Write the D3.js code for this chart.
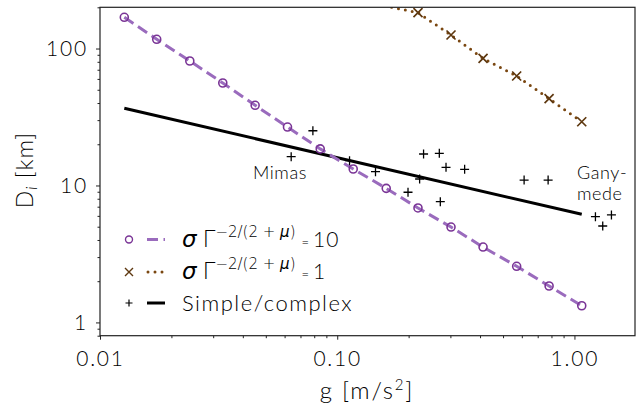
<!DOCTYPE html>
<html><head><meta charset="utf-8">
<script src="https://cdn.jsdelivr.net/npm/d3@7"></script>
<style>body{margin:0;background:#fff} svg text{font-family:Lato, "Open Sans", sans-serif;font-weight:300;fill:#000}</style>
</head><body>
<svg id="chart" width="644" height="406"></svg>
<script>
// ---- data ----
const gValues = [0.01266,0.01734,0.02391,0.03293,0.04508,0.06171,0.08479,0.1168,0.1609,0.2190,0.3018,0.4119,0.5707,0.7819,1.0735];
const diamSigma10 = [169.0,116.8,81.1,56.0,38.5,26.7,18.5,13.19,9.53,6.85,4.97,3.55,2.57,1.845,1.324];
const gSigma1 = [0.1168,0.1609,0.2190,0.3018,0.4119,0.5707,0.7819,1.0735];
const diamSigma1 = [265,204,182.6,125.5,84.8,63.0,43.0,29.2];
const simpleG = [0.01266,1.0735];
const simpleD = [36.6,6.16];
const craterG = [0.06396,0.07896,0.1127,0.1450,0.1988,0.2225,0.2312,0.2694,0.2720,0.2875,0.3444,0.6135,0.7745,1.226,1.432,1.316];
const craterD = [16.22,25.1,15.17,12.61,8.92,11.15,16.97,17.17,7.61,13.57,13.13,10.96,10.96,5.92,6.09,5.06];
const xTicks = [0.01,0.1,1];
const xTickLabels = ["0.01","0.10","1.00"];
const yTicks = [1,10,100];
const yTickLabels = ["1","10","100"];

const svg = d3.select("#chart");
const L=100, R=635, T=7.3, B=335.7;
const x = d3.scaleLog().domain([0.01,1.8]).range([L,R]);
const y = d3.scaleLog().domain([0.8,200]).range([B,T]);

const purpleLine="#9a6bbd", purpleMark="#7a3596", brown="#7a4711", brownMark="#5e3810";

svg.append("defs").append("clipPath").attr("id","clip")
  .append("rect").attr("x",L).attr("y",T).attr("width",R-L).attr("height",B-T);

// minor ticks
const xMinor=[], yMinor=[];
[0.01,0.1,1].forEach(d=>{for(let k=2;k<=9;k++){const v=d*k; if(v<=1.8) xMinor.push(v);}});
[0.1,1,10,100].forEach(d=>{for(let k=2;k<=9;k++){const v=d*k; if(v>=0.8&&v<=200) yMinor.push(v);}});

const xAxisMinor = svg.append("g").attr("transform",`translate(0,${B})`)
  .call(d3.axisBottom(x).tickValues(xMinor).tickSize(2.5).tickFormat(""));
const xAxis = svg.append("g").attr("transform",`translate(0,${B})`)
  .call(d3.axisBottom(x).tickValues(xTicks).tickSize(4).tickPadding(11).tickFormat((d,i)=>xTickLabels[i]));
const yAxisMinor = svg.append("g").attr("transform",`translate(${L},0)`)
  .call(d3.axisLeft(y).tickValues(yMinor).tickSize(2.5).tickFormat(""));
const yAxis = svg.append("g").attr("transform",`translate(${L},0)`)
  .call(d3.axisLeft(y).tickValues(yTicks).tickSize(4).tickPadding(8).tickFormat((d,i)=>yTickLabels[i]));
[xAxisMinor,xAxis,yAxisMinor,yAxis].forEach(g=>{
  g.select(".domain").remove();
  g.selectAll("line").attr("stroke","#222").attr("stroke-width",1);
  g.selectAll("text").attr("font-size",21).attr("font-family","Lato").attr("font-weight",300)
    .attr("letter-spacing",1.8).attr("fill","#000");
});

const plot = svg.append("g").attr("clip-path","url(#clip)");
const line = d3.line().x(d=>x(d[0])).y(d=>y(d[1]));

// simple/complex line
plot.append("path").datum(simpleG.map((g,i)=>[g,simpleD[i]]))
  .attr("d",line).attr("fill","none").attr("stroke","#000").attr("stroke-width",3);

// sigma=10 dashed
plot.append("path").datum(gValues.map((g,i)=>[g,diamSigma10[i]]))
  .attr("d",line).attr("fill","none").attr("stroke",purpleLine).attr("stroke-width",3)
  .attr("stroke-dasharray","11,5.5");
// sigma=1 dotted
plot.append("path").datum(gSigma1.map((g,i)=>[g,diamSigma1[i]]))
  .attr("d",line).attr("fill","none").attr("stroke",brown).attr("stroke-width",3)
  .attr("stroke-linecap","round").attr("stroke-dasharray","0,7");

// markers
plot.selectAll("circle.s10").data(gValues.map((g,i)=>[g,diamSigma10[i]])).join("circle")
  .attr("cx",d=>x(d[0])).attr("cy",d=>y(d[1])).attr("r",4)
  .attr("fill","none").attr("stroke",purpleMark).attr("stroke-width",1.6);

const s1pts = gSigma1.map((g,i)=>[g,diamSigma1[i]]).filter(d=>d[1]<=200);
const xm = plot.selectAll("g.s1").data(s1pts).join("g")
  .attr("transform",d=>`translate(${x(d[0])},${y(d[1])})`);
xm.append("path").attr("d","M-4.5,-4.5L4.5,4.5M-4.5,4.5L4.5,-4.5")
  .attr("stroke",brownMark).attr("stroke-width",1.7).attr("fill","none");

const pm = plot.selectAll("g.cr").data(craterG.map((g,i)=>[g,craterD[i]])).join("g")
  .attr("transform",d=>`translate(${x(d[0])},${y(d[1])})`);
pm.append("path").attr("d","M-4.5,0L4.5,0M0,-4.5L0,4.5")
  .attr("stroke","#000").attr("stroke-width",1.3).attr("fill","none");

// frame
svg.append("rect").attr("x",L).attr("y",T).attr("width",R-L).attr("height",B-T)
  .attr("fill","none").attr("stroke","#222").attr("stroke-width",1.2);

// annotations
svg.append("text").attr("x",280).attr("y",179).attr("text-anchor","middle").attr("font-size",18).attr("letter-spacing",0.6).text("Mimas");
svg.append("text").attr("x",577).attr("y",179).attr("font-size",18).attr("letter-spacing",0.6).text("Gany-");
svg.append("text").attr("x",577).attr("y",199.5).attr("font-size",18).attr("letter-spacing",0.6).text("mede");

// axis labels
const yl = svg.append("text").attr("transform","translate(33,170) rotate(-90)")
  .attr("text-anchor","middle").attr("font-size",23).attr("letter-spacing",1);
yl.append("tspan").text("D");
yl.append("tspan").attr("font-size",15).attr("font-style","italic").attr("dy",4).text("i");
yl.append("tspan").attr("dy",-4).text(" [km]");
const xl = svg.append("text").attr("x",367).attr("y",399).attr("text-anchor","middle").attr("font-size",24).attr("letter-spacing",1.8);
xl.append("tspan").text("g [m/s");
xl.append("tspan").attr("font-size",15).attr("dy",-9).text("2");
xl.append("tspan").attr("dy",9).text("]");

// legend
const legendLabels = ["= 10","= 1","Simple/complex"];
const rows=[239.5,272,303];
const lg = svg.append("g");
lg.append("circle").attr("cx",129).attr("cy",rows[0]).attr("r",3.5).attr("fill","none").attr("stroke",purpleMark).attr("stroke-width",1.4);
lg.append("line").attr("x1",147).attr("x2",165).attr("y1",rows[0]).attr("y2",rows[0]).attr("stroke",purpleLine).attr("stroke-width",3).attr("stroke-dasharray","11,5.5");
lg.append("path").attr("transform",`translate(129,${rows[1]})`).attr("d","M-4,-4L4,4M-4,4L4,-4").attr("stroke",brownMark).attr("stroke-width",1.4);
lg.append("line").attr("x1",148).attr("x2",165).attr("y1",rows[1]).attr("y2",rows[1]).attr("stroke",brown).attr("stroke-width",3).attr("stroke-linecap","round").attr("stroke-dasharray","0,7");
lg.append("path").attr("transform",`translate(129,${rows[2]})`).attr("d","M-3.5,0L3.5,0M0,-3.5L0,3.5").attr("stroke","#000").attr("stroke-width",1.2);
lg.append("line").attr("x1",147).attr("x2",165).attr("y1",rows[2]).attr("y2",rows[2]).attr("stroke","#000").attr("stroke-width",3);

[0,1].forEach(i=>{
  const t = lg.append("text").attr("x",182).attr("y",rows[i]+7).attr("font-size",23);
  t.append("tspan").attr("font-family","DejaVu Sans").attr("font-style","italic").text("σ");
  t.append("tspan").attr("font-family","DejaVu Sans").attr("dx",6).text("Γ");
  t.append("tspan").attr("font-family","DejaVu Sans").attr("font-size",15).attr("dy",-10).text("−2/(2 + ");
  t.append("tspan").attr("font-family","DejaVu Sans").attr("font-style","italic").attr("font-size",15).text("μ");
  t.append("tspan").attr("font-family","DejaVu Sans").attr("font-size",15).text(")");
  const parts = legendLabels[i].split(" ");
  t.append("tspan").attr("font-size",13).attr("dy",10).attr("dx",6).text(parts[0]);
  t.append("tspan").attr("font-size",21).attr("dx",4).attr("letter-spacing",1).text(parts[1]);
});
lg.append("text").attr("x",182).attr("y",rows[2]+7.5).attr("font-size",22).attr("letter-spacing",1.5).text(legendLabels[2]);
</script>
</body></html>
